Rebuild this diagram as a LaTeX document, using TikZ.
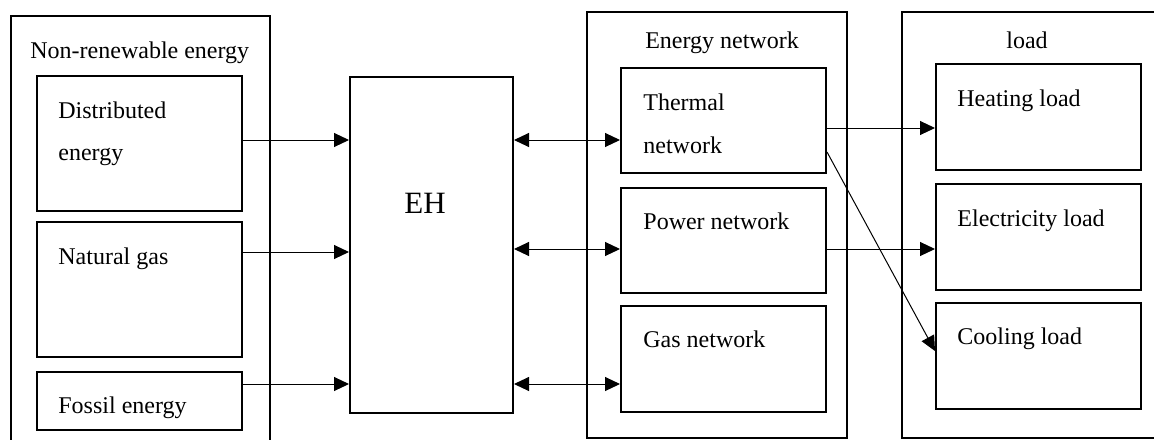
\documentclass[tikz,border=0pt]{standalone}
\usepackage{fontspec}
\setmainfont{Liberation Serif}
\usetikzlibrary{arrows.meta}
\tikzset{
  box/.style={draw=black, line width=1pt, inner sep=0pt},
  arr/.style={line width=0.5pt, -{Triangle[length=7.5pt,width=7pt]}},
  barr/.style={line width=0.5pt, {Triangle[length=7.5pt,width=7pt]}-{Triangle[length=7.5pt,width=7pt]}},
  lbl/.style={anchor=base west, inner sep=0pt, font=\fontsize{12}{14}\selectfont},
  clbl/.style={anchor=base, inner sep=0pt, font=\fontsize{12}{14}\selectfont}
}
\begin{document}
\begin{tikzpicture}[x=0.5pt, y=-0.5pt]
\useasboundingbox (0,0) rectangle (1154,439);
\clip (0,0) rectangle (1154,439);
\fill[white] (0,0) rectangle (1154,439);
% outer groups
\node[box, minimum width=129.5pt, minimum height=222pt] (nonren) at (140.5,238) {};
\node[box, minimum width=130pt, minimum height=213pt] (enet) at (717,225) {};
\node[box, minimum width=134pt, minimum height=213pt] (load) at (1036,225) {};
% left inner boxes
\node[box, minimum width=102.5pt, minimum height=67.5pt] (dist) at (139.5,143.5) {};
\node[box, minimum width=102.5pt, minimum height=67.5pt] (ngas) at (139.5,289.5) {};
\node[box, minimum width=102.5pt, minimum height=29pt] (fossil) at (139.5,401) {};
% EH
\node[box, minimum width=81.5pt, minimum height=168pt] (EH) at (431.5,245) {};
% network boxes
\node[box, minimum width=102.5pt, minimum height=52.5pt] (thermal) at (723.5,120.5) {};
\node[box, minimum width=102.5pt, minimum height=52.5pt] (power) at (723.5,240.5) {};
\node[box, minimum width=102.5pt, minimum height=53pt] (gasnet) at (723.5,359) {};
% load boxes
\node[box, minimum width=102.5pt, minimum height=53pt] (heat) at (1038.5,117) {};
\node[box, minimum width=102.5pt, minimum height=53pt] (elec) at (1038.5,237) {};
\node[box, minimum width=102.5pt, minimum height=53pt] (cool) at (1038.5,356) {};
% labels
\node[lbl] (tnonren) at (30,58) {Non-renewable energy};
\node[lbl] (tdist1) at (58,118) {Distributed};
\node[lbl] (tdist2) at (58,160) {energy};
\node[lbl] (tngas) at (58,264) {Natural gas};
\node[lbl] (tfossil) at (58,413) {Fossil energy};
\node[clbl, font=\fontsize{15.5}{18}\selectfont] (tEH) at (425,213) {EH};
\node[clbl] (tenet) at (722,48) {Energy network};
\node[lbl] (tth1) at (643,110) {Thermal};
\node[lbl] (tth2) at (643,153) {network};
\node[lbl] (tpower) at (643,229) {Power network};
\node[lbl] (tgasnet) at (643,347) {Gas network};
\node[clbl] (tload) at (1027,48) {load};
\node[lbl] (theat) at (957,106) {Heating load};
\node[lbl] (telec) at (957,226) {Electricity load};
\node[lbl] (tcool) at (957,344) {Cooling load};
% arrow levels
\coordinate (ya) at (0,140);
\coordinate (yb) at (0,252);
\coordinate (yc) at (0,384);
\coordinate (yd) at (0,128);
\coordinate (ye) at (0,249);
\coordinate (ds) at (0,152);
\coordinate (de) at (0,351);
% connectors
\draw[arr] (dist.east |- ya) -- (EH.west |- ya);
\draw[arr] (ngas.east |- yb) -- (EH.west |- yb);
\draw[arr] (fossil.east |- yc) -- (EH.west |- yc);
\draw[barr] (EH.east |- ya) -- (thermal.west |- ya);
\draw[barr] (EH.east |- ye) -- (power.west |- ye);
\draw[barr] (EH.east |- yc) -- (gasnet.west |- yc);
\draw[arr] (thermal.east |- yd) -- (heat.west |- yd);
\draw[arr] (power.east |- ye) -- (elec.west |- ye);
\draw[arr] (thermal.east |- ds) -- (cool.west |- de);
\end{tikzpicture}
\end{document}
